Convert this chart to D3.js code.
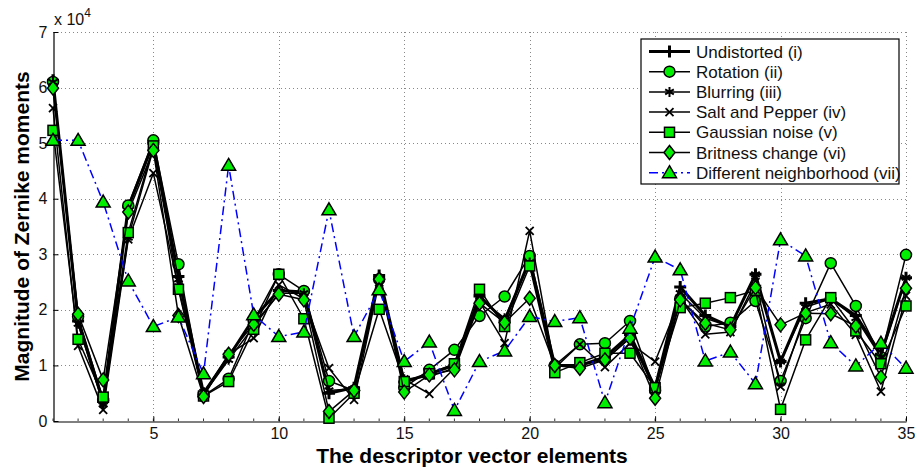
<!DOCTYPE html>
<html>
<head>
<meta charset="utf-8">
<script src="https://cdn.jsdelivr.net/npm/d3@7"></script>
<style>
body { margin: 0; background: #fff; }
svg { font-family: "Liberation Sans", Arial, sans-serif; }
</style>
</head>
<body>
<div id="chart"></div>
<script>
// values are in units of 10^4
var elements = d3.range(1, 36);
var undistorted = [6.13,1.80,0.35,3.85,5.00,2.60,0.50,1.15,1.85,2.35,2.32,0.50,0.60,2.62,0.70,0.85,1.00,2.25,1.80,2.90,1.00,1.00,1.15,1.55,0.60,2.41,1.90,1.70,2.64,1.07,2.12,2.20,1.90,1.20,2.58];
var rotation = [6.10,1.88,0.38,3.88,5.05,2.82,0.45,0.76,1.80,2.64,2.34,0.72,0.55,2.55,0.60,0.92,1.28,1.89,2.24,2.97,1.00,1.38,1.40,1.80,0.55,2.20,1.70,1.77,2.16,0.72,1.85,2.84,2.07,1.15,2.99];
var blurring = [6.10,1.75,0.30,3.30,4.90,2.55,0.48,1.10,1.70,2.30,2.30,0.55,0.58,2.55,0.75,0.80,0.95,2.20,1.85,2.85,0.98,1.00,1.10,1.50,0.55,2.30,1.85,1.70,2.64,1.07,2.05,2.20,1.85,1.15,2.58];
var saltPepper = [5.63,1.35,0.20,3.27,4.46,2.40,0.50,1.20,1.49,2.45,2.20,0.95,0.38,2.50,0.75,0.49,0.95,2.15,1.40,3.42,0.95,1.38,0.97,1.40,1.07,2.20,1.56,1.60,2.50,0.62,1.95,2.10,1.55,0.53,2.25];
var gaussian = [5.23,1.47,0.43,3.39,4.95,2.37,0.45,0.71,1.65,2.64,1.84,0.05,0.50,2.01,0.71,0.85,1.03,2.37,1.70,2.79,0.87,1.05,1.22,1.22,0.60,2.04,2.12,2.22,2.35,0.21,1.46,2.22,1.62,1.03,2.07];
var britness = [5.99,1.92,0.74,3.76,4.87,1.90,0.44,1.20,1.74,2.28,2.18,0.17,0.55,2.55,0.52,0.83,0.92,2.12,1.77,2.21,1.00,0.95,1.10,1.49,0.41,2.18,1.76,1.64,2.40,1.73,1.94,1.93,1.71,0.79,2.39];
var different = [5.05,5.05,3.94,2.52,1.70,1.87,0.85,4.60,1.91,1.52,1.60,3.80,1.52,2.36,1.07,1.42,0.19,1.07,1.26,1.88,1.79,1.86,0.33,1.67,2.95,2.72,1.08,1.24,0.67,3.26,2.97,1.41,0.99,1.40,0.95];

var seriesNames = ["Undistorted (i)", "Rotation (ii)", "Blurring (iii)", "Salt and Pepper (iv)", "Gaussian noise (v)", "Britness change (vi)", "Different neighborhood (vii)"];
var xTicks = [5, 10, 15, 20, 25, 30, 35];
var yTicks = [0, 1, 2, 3, 4, 5, 6, 7];

var width = 915, height = 470;
var margin = {left: 53, right: 9, top: 32, bottom: 49};
var green = "#00ee00";

var series = [
    {name: seriesNames[0], values: undistorted, marker: "plus", color: "#000", lw: 3, dash: null},
    {name: seriesNames[1], values: rotation, marker: "circle", color: "#000", lw: 1.5, dash: null},
    {name: seriesNames[2], values: blurring, marker: "star", color: "#000", lw: 1.5, dash: null},
    {name: seriesNames[3], values: saltPepper, marker: "x", color: "#000", lw: 1.5, dash: null},
    {name: seriesNames[4], values: gaussian, marker: "square", color: "#000", lw: 1.5, dash: null},
    {name: seriesNames[5], values: britness, marker: "diamond", color: "#000", lw: 1.5, dash: null},
    {name: seriesNames[6], values: different, marker: "triangle", color: "#0000ff", lw: 1.5, dash: "9,4,2,4"}
];

var svg = d3.select("#chart").append("svg")
    .attr("width", width)
    .attr("height", height);

var x = d3.scaleLinear().domain([1, 35]).range([margin.left, width - margin.right]);
var y = d3.scaleLinear().domain([0, 7]).range([height - margin.bottom, margin.top]);

// grid
var grid = svg.append("g").attr("stroke", "#888").attr("stroke-width", 1).attr("stroke-dasharray", "1,3");
grid.selectAll(".gx").data(xTicks).enter().append("line")
    .attr("x1", function(d) { return Math.round(x(d)) + 0.5; })
    .attr("x2", function(d) { return Math.round(x(d)) + 0.5; })
    .attr("y1", y(0)).attr("y2", y(7));
grid.selectAll(".gy").data(yTicks.slice(1)).enter().append("line")
    .attr("y1", function(d) { return Math.round(y(d)) + 0.5; })
    .attr("y2", function(d) { return Math.round(y(d)) + 0.5; })
    .attr("x1", x(1)).attr("x2", x(35));

// axes
var xAxis = svg.append("g")
    .attr("transform", "translate(0," + (Math.round(y(0)) + 0.5) + ")")
    .call(d3.axisBottom(x).tickValues(xTicks).tickFormat(d3.format("d")).tickSizeInner(-5).tickSizeOuter(0).tickPadding(6));
var yAxis = svg.append("g")
    .attr("transform", "translate(" + (Math.round(x(1)) + 0.5) + ",0)")
    .call(d3.axisLeft(y).tickValues(yTicks).tickFormat(d3.format("d")).tickSizeInner(-5).tickSizeOuter(0).tickPadding(6));
[xAxis, yAxis].forEach(function(a) {
    a.select(".domain").attr("stroke", "#000").attr("stroke-width", 1.2);
    a.selectAll(".tick line").attr("stroke", "#000");
    a.selectAll("text").attr("font-size", 16).attr("fill", "#111").attr("font-family", "Liberation Sans, Arial, sans-serif");
});

// minor ticks on x
svg.append("g").selectAll("line").data(elements).enter().append("line")
    .attr("x1", function(d) { return x(d); }).attr("x2", function(d) { return x(d); })
    .attr("y1", y(0)).attr("y2", y(0) - 2.5)
    .attr("stroke", "#000").attr("stroke-width", 0.8);

// exponent label
var expo = svg.append("text").attr("x", 54).attr("y", 25).attr("font-size", 16).attr("fill", "#111");
expo.append("tspan").text("x 10");
expo.append("tspan").attr("dy", -8).attr("font-size", 12).text("4");

// axis titles
svg.append("text")
    .attr("x", 472).attr("y", 463)
    .attr("text-anchor", "middle").attr("font-weight", "bold").attr("font-size", 21)
    .text("The descriptor vector elements");
svg.append("text")
    .attr("transform", "translate(29," + y(3.5) + ") rotate(-90)")
    .attr("text-anchor", "middle").attr("font-weight", "bold").attr("font-size", 21)
    .text("Magnitude of Zernike moments");

function drawMarker(g, type, cx, cy) {
    if (type === "plus") {
        g.append("path").attr("d", "M" + (cx - 6) + "," + cy + "H" + (cx + 6) + "M" + cx + "," + (cy - 6) + "V" + (cy + 6))
            .attr("stroke", "#000").attr("stroke-width", 3);
    } else if (type === "star") {
        g.append("path").attr("d", d3.symbol().type(d3.symbolAsterisk).size(70)())
            .attr("transform", "translate(" + cx + "," + cy + ")")
            .attr("stroke", "#000").attr("stroke-width", 2).attr("fill", "none");
    } else if (type === "x") {
        g.append("path").attr("d", "M" + (cx - 4) + "," + (cy - 4) + "L" + (cx + 4) + "," + (cy + 4) + "M" + (cx - 4) + "," + (cy + 4) + "L" + (cx + 4) + "," + (cy - 4))
            .attr("stroke", "#000").attr("stroke-width", 1.8);
    } else if (type === "circle") {
        g.append("circle").attr("cx", cx).attr("cy", cy).attr("r", 5.5)
            .attr("fill", green).attr("stroke", "#000").attr("stroke-width", 1.5);
    } else if (type === "square") {
        g.append("rect").attr("x", cx - 5).attr("y", cy - 5).attr("width", 10).attr("height", 10)
            .attr("fill", green).attr("stroke", "#000").attr("stroke-width", 1.5);
    } else if (type === "diamond") {
        g.append("path").attr("d", "M" + cx + "," + (cy - 7) + "L" + (cx + 5.5) + "," + cy + "L" + cx + "," + (cy + 7) + "L" + (cx - 5.5) + "," + cy + "Z")
            .attr("fill", green).attr("stroke", "#000").attr("stroke-width", 1.5);
    } else if (type === "triangle") {
        g.append("path").attr("d", "M" + cx + "," + (cy - 7) + "L" + (cx + 7) + "," + (cy + 5) + "L" + (cx - 7) + "," + (cy + 5) + "Z")
            .attr("fill", green).attr("stroke", "#000").attr("stroke-width", 1.5);
    }
}

var line = d3.line()
    .x(function(d, i) { return x(elements[i]); })
    .y(function(d) { return y(d); });

series.forEach(function(s) {
    var g = svg.append("g");
    g.append("path").attr("d", line(s.values))
        .attr("fill", "none").attr("stroke", s.color).attr("stroke-width", s.lw)
        .attr("stroke-linejoin", "round")
        .attr("stroke-dasharray", s.dash);
    s.values.forEach(function(v, i) {
        drawMarker(g, s.marker, x(elements[i]), y(v));
    });
});

// legend
var lg = svg.append("g").attr("transform", "translate(641,39)");
lg.append("rect").attr("width", 258).attr("height", 145)
    .attr("fill", "#fff").attr("stroke", "#000").attr("stroke-width", 1.2);
series.forEach(function(s, i) {
    var ly = 12.5 + i * 20.2;
    var row = lg.append("g");
    row.append("line").attr("x1", 8).attr("x2", 49).attr("y1", ly).attr("y2", ly)
        .attr("stroke", s.color).attr("stroke-width", s.lw).attr("stroke-dasharray", s.dash);
    drawMarker(row, s.marker, 28.5, ly);
    row.append("text").attr("x", 55).attr("y", ly + 6).attr("font-size", 17).attr("fill", "#111").text(s.name);
});
</script>
</body>
</html>
